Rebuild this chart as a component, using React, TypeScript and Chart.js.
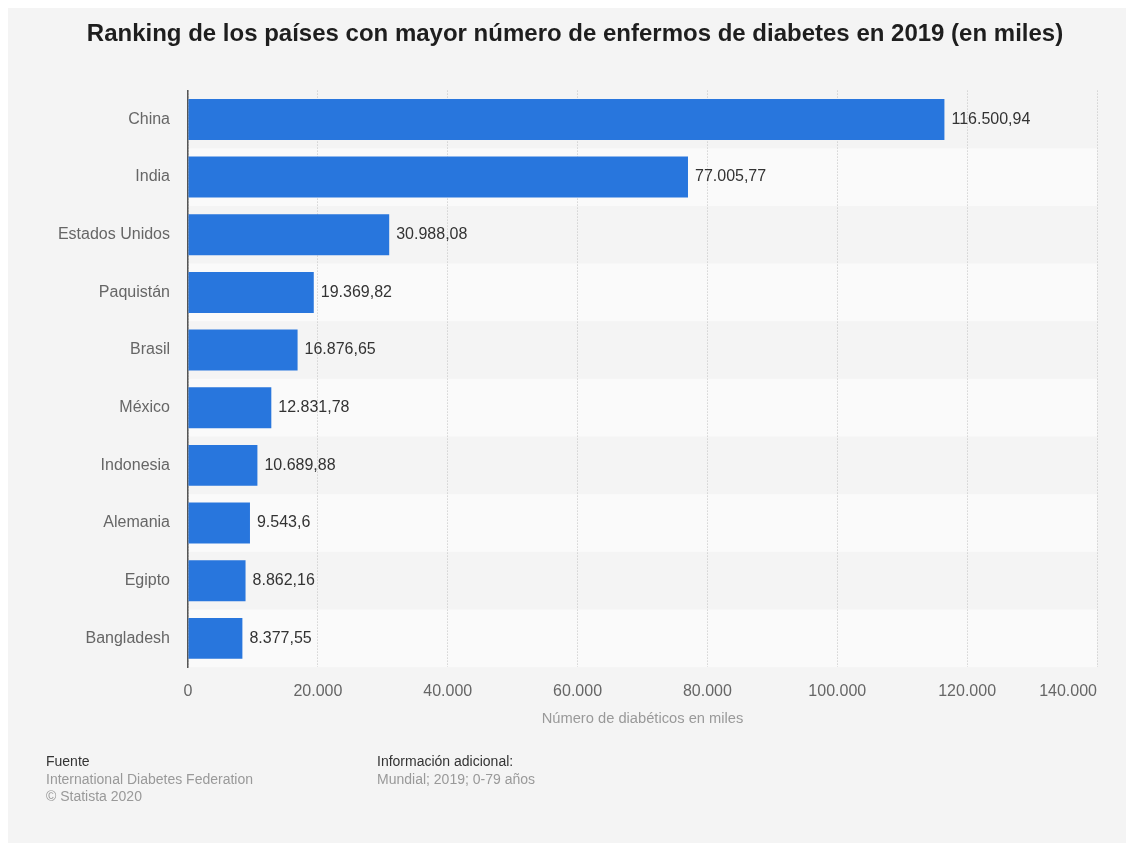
import React, { useEffect, useRef } from "react";
import { Chart, registerables } from "chart.js";

Chart.register(...registerables);

const TITLE = "Ranking de los países con mayor número de enfermos de diabetes en 2019 (en miles)";
const AXIS_TITLE = "Número de diabéticos en miles";
const countries = [
  "China",
  "India",
  "Estados Unidos",
  "Paquistán",
  "Brasil",
  "México",
  "Indonesia",
  "Alemania",
  "Egipto",
  "Bangladesh",
];
const diabetics = [116500.94, 77005.77, 30988.08, 19369.82, 16876.65, 12831.78, 10689.88, 9543.6, 8862.16, 8377.55];
const xTicks = [0, 20000, 40000, 60000, 80000, 100000, 120000, 140000];
const sourceLines = ["International Diabetes Federation", "© Statista 2020"];
const infoLines = ["Mundial; 2019; 0-79 años"];

const FONT = "'Liberation Sans', Arial, Helvetica, sans-serif";
const TICK_COLOR = "#666666";

function fmt(v: number): string {
  const s = String(v);
  const [intPart, dec] = s.split(".");
  const grouped = intPart.replace(/\B(?=(\d{3})+(?!\d))/g, ".");
  return dec ? grouped + "," + dec : grouped;
}

const bandsPlugin = {
  id: "bands",
  beforeDraw(chart: any) {
    const { ctx, chartArea, scales } = chart;
    const y = scales.y;
    const n = countries.length;
    const h = (chartArea.bottom - chartArea.top) / n;
    ctx.save();
    for (let i = 0; i < n; i++) {
      if (i % 2 === 1) {
        ctx.fillStyle = "#fafafa";
        const c = y.getPixelForValue(i);
        ctx.fillRect(chartArea.left, c - h / 2, chartArea.right - chartArea.left, h);
      }
    }
    ctx.restore();
  },
};

const labelsPlugin = {
  id: "valueLabels",
  afterDatasetsDraw(chart: any) {
    const { ctx } = chart;
    const meta = chart.getDatasetMeta(0);
    ctx.save();
    ctx.font = `16px ${FONT}`;
    ctx.fillStyle = "#333333";
    ctx.textAlign = "left";
    ctx.textBaseline = "middle";
    meta.data.forEach((bar: any, i: number) => {
      ctx.fillText(fmt(diabetics[i]), bar.x + 7, bar.y);
    });
    ctx.restore();
  },
};

// last x tick label is right-aligned to its grid line, as in the reference
const lastTickPlugin = {
  id: "lastTick",
  afterDraw(chart: any) {
    const { ctx, chartArea, scales } = chart;
    const last = xTicks[xTicks.length - 1];
    ctx.save();
    ctx.font = `16px ${FONT}`;
    ctx.fillStyle = TICK_COLOR;
    ctx.textAlign = "right";
    ctx.textBaseline = "middle";
    ctx.fillText(fmt(last), scales.x.getPixelForValue(last), chartArea.bottom + 15 + 9.6);
    ctx.restore();
  },
};

export default function App() {
  const canvasRef = useRef<HTMLCanvasElement | null>(null);

  useEffect(() => {
    document.body.style.overflow = "hidden";
    if (!canvasRef.current) return;
    const chart = new Chart(canvasRef.current, {
      type: "bar",
      data: {
        labels: countries,
        datasets: [
          {
            data: diabetics,
            backgroundColor: "#2876dd",
            borderWidth: 0,
            barPercentage: 0.71,
            categoryPercentage: 1,
          },
        ],
      },
      options: {
        indexAxis: "y",
        animation: false,
        responsive: true,
        maintainAspectRatio: false,
        layout: { padding: { top: 82.6, left: 0, right: 37, bottom: 115.6 } },
        plugins: {
          legend: { display: false },
          tooltip: { enabled: false },
          title: { display: false },
        },
        scales: {
          x: {
            type: "linear",
            min: 0,
            max: 140000,
            afterBuildTicks(scale: any) {
              scale.ticks = xTicks.map((v) => ({ value: v }));
            },
            afterFit(scale: any) {
              scale.height = 60.2;
              scale.paddingLeft = 0;
              scale.paddingRight = 0;
            },
            ticks: {
              callback: (v: any) => fmt(Number(v)),
              color: (c: any) => (c.index === xTicks.length - 1 ? "rgba(0,0,0,0)" : TICK_COLOR),
              font: { family: FONT, size: 16 },
              padding: 15,
              maxRotation: 0,
            },
            grid: {
              color: "#c0c0c0",
              lineWidth: 1,
              drawTicks: false,
            },
            border: { display: false, dash: [1, 2] },
            title: {
              display: true,
              text: AXIS_TITLE,
              color: "#999999",
              font: { family: FONT, size: 14.7 },
              padding: 0,
            },
          },
          y: {
            afterFit(scale: any) {
              scale.width = 180;
            },
            ticks: {
              color: TICK_COLOR,
              font: { family: FONT, size: 16 },
              padding: 18,
            },
            grid: { display: false, drawTicks: false },
            border: { display: true, color: "#555555", width: 1.5 },
          },
        },
      },
      plugins: [bandsPlugin, labelsPlugin, lastTickPlugin],
    } as any);
    return () => chart.destroy();
  }, []);

  const footText: React.CSSProperties = {
    fontFamily: FONT,
    fontSize: 14,
    lineHeight: "17.5px",
    color: "#999999",
    whiteSpace: "nowrap",
  };

  return (
    <div style={{ position: "relative", width: 1126, height: 835, background: "#f4f4f4" }}>
      <div style={{ position: "absolute", left: 0, top: 0, width: 1126, height: 835 }}>
        <canvas ref={canvasRef} />
      </div>
      <div
        style={{
          position: "absolute",
          left: 0,
          top: 12.7,
          width: 1134,
          textAlign: "center",
          fontFamily: FONT,
          fontSize: 24,
          lineHeight: "24px",
          fontWeight: "bold",
          color: "#1e1e1e",
          whiteSpace: "nowrap",
        }}
      >
        {TITLE}
      </div>
      <div style={{ position: "absolute", left: 38, top: 745 }}>
        <div style={{ ...footText, color: "#333333" }}>Fuente</div>
        {sourceLines.map((l) => (
          <div key={l} style={footText}>{l}</div>
        ))}
      </div>
      <div style={{ position: "absolute", left: 369, top: 745 }}>
        <div style={{ ...footText, color: "#333333" }}>Información adicional:</div>
        {infoLines.map((l) => (
          <div key={l} style={footText}>{l}</div>
        ))}
      </div>
    </div>
  );
}
